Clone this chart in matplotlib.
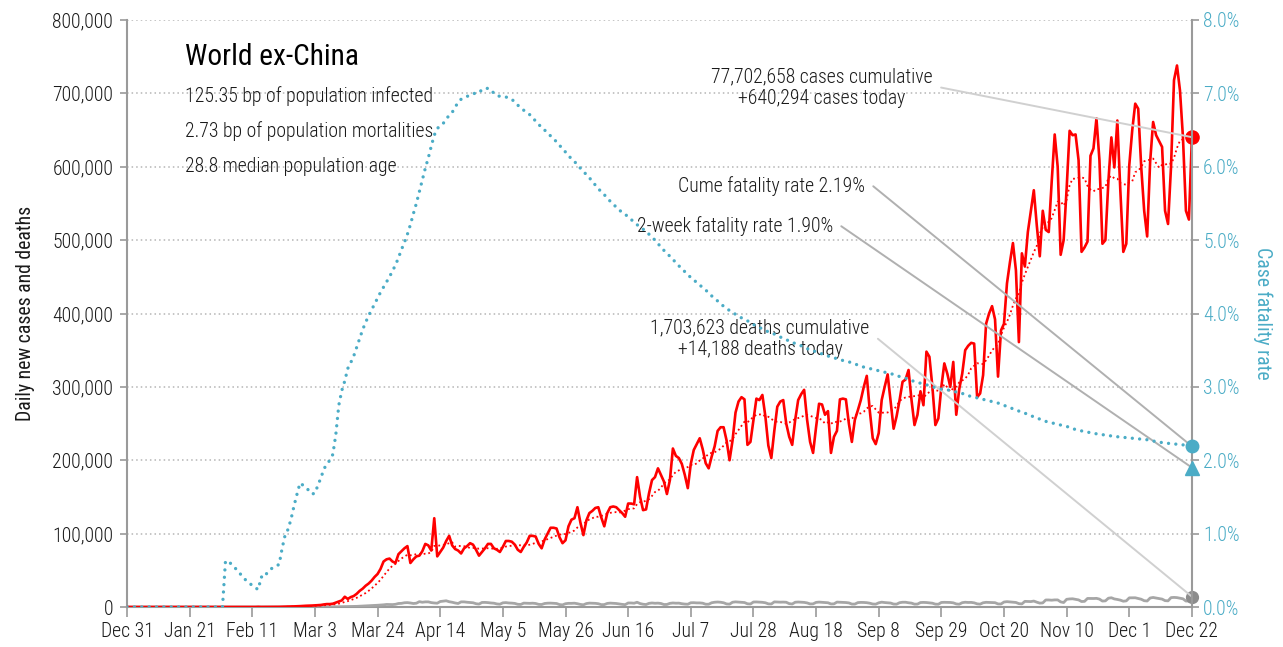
import numpy as np
import pandas as pd
import matplotlib
matplotlib.use("Agg")
import matplotlib.pyplot as plt
from matplotlib import font_manager as fm
from matplotlib.ticker import FuncFormatter, FixedLocator

# ---------------- data (day 0 = Dec 31, 2019; day 357 = Dec 22, 2020) ----------------
tick_labels = ["Dec 31", "Jan 21", "Feb 11", "Mar 3", "Mar 24", "Apr 14", "May 5", "May 26",
               "Jun 16", "Jul 7", "Jul 28", "Aug 18", "Sep 8", "Sep 29", "Oct 20", "Nov 10",
               "Dec 1", "Dec 22"]

daily_cases = [
    0, 0, 0, 0, 0, 0, 0,
    0, 0, 0, 0, 0, 0, 1,
    0, 1, 0, 0, 0, 1, 2,
    4, 5, 6, 10, 12, 16, 14,
    22, 26, 30, 32, 28, 22, 30,
    40, 36, 50, 62, 30, 20, 26,
    30, 22, 200, 40, 50, 100, 80,
    100, 150, 200, 300, 450, 550, 650,
    850, 1000, 1200, 1500, 1700, 1800, 2000,
    2200, 2500, 2800, 3500, 4000, 4000, 4500,
    6000, 7500, 9000, 14000, 11000, 13500, 15000,
    18000, 22000, 25000, 29000, 32000, 36000, 41000,
    45000, 52000, 62000, 65000, 66000, 62000, 60000,
    72000, 76000, 80000, 83000, 60000, 65000, 69000,
    70000, 76000, 86000, 84000, 77000, 121000, 69000,
    75000, 81000, 90000, 97000, 84000, 79000, 77000,
    73000, 80000, 83000, 87000, 85000, 78000, 70000,
    75000, 80000, 86000, 86000, 80000, 78000, 75000,
    82000, 90000, 90000, 89000, 85000, 78000, 75000,
    82000, 88000, 97000, 97000, 96000, 86000, 80000,
    92000, 100000, 108000, 108000, 107000, 95000, 87000,
    91000, 110000, 119000, 121000, 136000, 115000, 98000,
    118000, 128000, 131000, 135000, 136000, 122000, 110000,
    128000, 136000, 137000, 136000, 132000, 128000, 123000,
    141000, 141000, 140000, 177000, 150000, 132000, 133000,
    155000, 173000, 177000, 189000, 180000, 171000, 154000,
    173000, 216000, 206000, 203000, 195000, 180000, 162000,
    195000, 214000, 222000, 230000, 215000, 196000, 189000,
    205000, 219000, 240000, 245000, 245000, 227000, 200000,
    227000, 265000, 280000, 286000, 283000, 221000, 225000,
    255000, 284000, 282000, 289000, 260000, 220000, 203000,
    240000, 273000, 280000, 282000, 250000, 232000, 221000,
    255000, 282000, 290000, 296000, 255000, 225000, 210000,
    245000, 277000, 276000, 262000, 267000, 210000, 232000,
    240000, 283000, 284000, 283000, 250000, 225000, 255000,
    268000, 282000, 300000, 315000, 268000, 230000, 222000,
    237000, 282000, 300000, 317000, 280000, 243000, 260000,
    282000, 307000, 310000, 323000, 282000, 248000, 262000,
    294000, 275000, 348000, 341000, 300000, 248000, 257000,
    300000, 332000, 318000, 300000, 334000, 262000, 297000,
    318000, 350000, 356000, 360000, 359000, 286000, 291000,
    316000, 386000, 400000, 410000, 392000, 314000, 377000,
    386000, 441000, 470000, 496000, 459000, 361000, 482000,
    464000, 511000, 540000, 568000, 520000, 478000, 540000,
    514000, 511000, 580000, 644000, 600000, 480000, 500000,
    570000, 649000, 643000, 644000, 609000, 484000, 490000,
    498000, 615000, 625000, 666000, 609000, 495000, 500000,
    580000, 640000, 599000, 663000, 568000, 484000, 495000,
    602000, 650000, 686000, 679000, 600000, 540000, 505000,
    607000, 661000, 643000, 635000, 627000, 540000, 522000,
    600000, 718000, 738000, 704000, 640000, 540000, 528000,
    640294,
]

daily_deaths = [0] * 33 + [1] + [0] * 11 + [1, 0, 1, 0] + [
    0, 1, 2, 3, 4, 6, 8,
    10, 15, 15, 20, 25, 30, 40,
    50, 60, 70, 90, 100, 130, 200,
    250, 300, 400, 450, 500, 650, 800,
    900, 1100, 1300, 1500, 1700, 1900, 2000,
    2400, 2700, 3000, 3500, 3400, 3300, 3700,
    4800, 5000, 5800, 6000, 5500, 4800, 5200,
    7300, 6500, 7000, 7000, 6000, 5500, 5200,
    7500, 8000, 8500, 7200, 6500, 5500, 4800,
    7000, 7000, 6500, 6200, 5800, 4500, 4000,
    6200, 6300, 6000, 5500, 5200, 4200, 3800,
    5700, 6000, 5500, 5300, 4900, 3700, 3500,
    5300, 5200, 5000, 5200, 4800, 3600, 3400,
    4800, 5200, 5300, 5000, 4800, 3300, 2900,
    4500, 5000, 5000, 5200, 4500, 3500, 3000,
    4700, 5300, 5100, 5000, 4500, 3200, 3300,
    4900, 5300, 5000, 4800, 4200, 3600, 3200,
    5500, 5500, 5200, 6500, 4700, 3800, 3400,
    5000, 5500, 5100, 5300, 4800, 3400, 3500,
    5000, 5500, 5200, 5300, 4500, 4000, 3800,
    5800, 5900, 5600, 5600, 5200, 3800, 3800,
    5800, 6500, 6800, 6500, 5800, 4200, 3900,
    6500, 7000, 6700, 6300, 6100, 4400, 4100,
    6800, 6900, 6600, 6400, 5800, 4300, 4100,
    7000, 6800, 6600, 6700, 6500, 4600, 4100,
    6500, 6800, 6600, 6300, 5600, 4200, 4300,
    6300, 6700, 6400, 6200, 5800, 4200, 4300,
    6700, 6500, 6300, 6100, 5600, 4000, 4000,
    6000, 6300, 6200, 5900, 5200, 4100, 3900,
    5700, 6600, 6100, 5800, 5400, 4000, 3900,
    5900, 6500, 6500, 5800, 5300, 3900, 4000,
    6100, 6300, 6100, 5600, 5200, 3900, 3800,
    6200, 6400, 6300, 6200, 5700, 4200, 3800,
    5900, 6500, 6200, 6300, 5700, 4300, 3900,
    5800, 6400, 6200, 6100, 5900, 4200, 4100,
    6800, 7300, 6900, 6400, 6200, 4600, 4200,
    7700, 7600, 7400, 8100, 6600, 5300, 5600,
    9600, 9600, 9300, 9700, 9700, 7000, 6100,
    10500, 11000, 11200, 10500, 9700, 7500, 7700,
    11700, 11600, 11600, 11800, 10800, 8100, 8400,
    12000, 12600, 11000, 10300, 9400, 7900, 8400,
    12500, 12600, 12600, 11600, 10600, 8600, 8200,
    12300, 13000, 12200, 11500, 10800, 8700, 8400,
    12800, 13100, 12800, 12000, 11200, 8100, 8200,
    14188,
]

# cumulative case fatality rate, percent
cfr_pct = [0.0] * 33 + [
    0.62, 0.63, 0.58, 0.54, 0.50, 0.45, 0.40, 0.36, 0.33, 0.29, 0.26, 0.24,
    0.41, 0.40, 0.47, 0.51, 0.54, 0.56, 0.58, 0.80, 0.98, 1.06, 1.20, 1.38, 1.54, 1.69, 1.66, 1.62, 1.59, 1.54,
    1.55, 1.66, 1.76, 1.88, 1.95, 2.00, 2.08, 2.35, 2.75, 2.95, 3.08, 3.25, 3.33, 3.42, 3.54, 3.66, 3.78, 3.88,
    3.97, 4.05, 4.13, 4.21, 4.29, 4.36, 4.43, 4.50, 4.58, 4.66, 4.76, 4.87, 4.97, 5.08, 5.21, 5.36, 5.50, 5.66,
    5.82, 5.98,
    6.12, 6.28, 6.43, 6.52, 6.56, 6.59, 6.65, 6.70, 6.74, 6.81, 6.88, 6.92, 6.94, 6.96, 6.97, 6.99, 7.01, 7.04,
    7.03, 7.06, 7.07, 7.05, 7.00, 6.97, 6.96, 6.95, 6.95, 6.94, 6.92, 6.88, 6.84, 6.80, 6.77, 6.74, 6.71,
    6.67, 6.62, 6.58, 6.53, 6.50, 6.46, 6.42, 6.38, 6.34, 6.29,
    6.25, 6.20, 6.15, 6.11, 6.07, 6.03, 5.98, 5.94, 5.89, 5.85,
    5.80, 5.75, 5.70, 5.66, 5.62, 5.57, 5.53, 5.49, 5.45, 5.41,
    5.38, 5.35, 5.32, 5.28, 5.25, 5.21, 5.18, 5.15, 5.12, 5.08,
    5.04, 5.00, 4.95, 4.91, 4.86, 4.82, 4.78, 4.74, 4.69, 4.65,
    4.61, 4.57, 4.53, 4.49, 4.46, 4.42, 4.39, 4.35, 4.32, 4.28,
    4.24, 4.21, 4.17, 4.13, 4.10, 4.07, 4.04, 4.01, 3.99, 3.97,
    3.94, 3.92, 3.90, 3.88, 3.85, 3.83, 3.81, 3.79, 3.77, 3.75,
    3.73, 3.72, 3.70, 3.68, 3.66, 3.64, 3.63, 3.61, 3.59, 3.57,
    3.56, 3.54, 3.52, 3.51, 3.49, 3.48, 3.46, 3.45, 3.44, 3.42,
    3.41, 3.40, 3.38, 3.37, 3.36, 3.35, 3.34, 3.33, 3.31, 3.30,
    3.28, 3.27, 3.26, 3.25, 3.24, 3.23, 3.22, 3.21, 3.20, 3.19,
    3.18, 3.17, 3.16, 3.14, 3.13, 3.12, 3.10, 3.09, 3.07, 3.06,
    3.05, 3.04, 3.03, 3.01, 3.00, 2.99, 2.98, 2.97, 2.96, 2.96,
    2.95, 2.94, 2.93, 2.92, 2.91, 2.90, 2.88, 2.87, 2.86, 2.85,
    2.84, 2.83, 2.82, 2.81, 2.80, 2.79, 2.78, 2.76, 2.75, 2.73,
    2.72, 2.70, 2.69, 2.67, 2.66, 2.64, 2.63, 2.61, 2.59, 2.58,
    2.56, 2.55, 2.53, 2.52, 2.51, 2.50, 2.49, 2.48, 2.47, 2.46,
    2.45, 2.43, 2.42, 2.41, 2.40, 2.39, 2.38, 2.38, 2.37, 2.36,
    2.36, 2.35, 2.34, 2.34, 2.33, 2.33, 2.32, 2.32, 2.31, 2.31,
    2.30, 2.30, 2.30, 2.29, 2.29, 2.28, 2.28, 2.27, 2.26, 2.26,
    2.25, 2.24, 2.24, 2.23, 2.23, 2.22, 2.22, 2.21, 2.21, 2.20,
    2.20, 2.19,
]

two_week_cfr_pct = 1.90

title = "World ex-China"
subtitle_lines = ["125.35 bp of population infected",
                  "2.73 bp of population mortalities",
                  "28.8 median population age"]
cases_note = "77,702,658 cases cumulative\n+640,294 cases today"
deaths_note = "1,703,623 deaths cumulative\n+14,188 deaths today"
cume_note = "Cume fatality rate 2.19%"
twoweek_note = "2-week fatality rate 1.90%"

# ---------------- font choice ----------------
entries = fm.fontManager.ttflist
available = {f.name for f in entries}
prefs = ["Roboto Condensed", "Archivo Narrow", "PT Sans Narrow", "Barlow Condensed",
         "Fira Sans Condensed", "IBM Plex Sans Condensed", "Encode Sans Condensed",
         "Liberation Sans Narrow", "DejaVu Sans"]
FONT = next(p for p in prefs if p in available or p == "DejaVu Sans")
weights = {f.weight for f in entries if f.name == FONT}
WEIGHT = 300 if 300 in weights else "normal"
plt.rcParams["font.family"] = [FONT, "DejaVu Sans"]
plt.rcParams["font.weight"] = WEIGHT

RED = "#ff0000"
BLUE = "#4bacc6"
GREY = "#a6a6a6"
AXC = "#9a9a9a"
TXT = "#1a1a1a"

fig = plt.figure(figsize=(12.83, 6.47), dpi=100)
renderer = fig.canvas.get_renderer()


def fit_size(s, target_px, base=10.0):
    t = fig.text(0, 0, s, fontsize=base)
    w = t.get_window_extent(renderer).width
    t.remove()
    return base * target_px / w


FS = fit_size(subtitle_lines[0], 248)
FS_T = fit_size(title, 172)

n = len(daily_cases)
days = np.arange(n)
s_cases = pd.Series(daily_cases, index=days, dtype=float)
avg_cases = s_cases.rolling(7, min_periods=1).mean()

ax = fig.add_axes([0.0990, 0.0618, 0.8300, 0.9073])
ax2 = ax.twinx()

ax.set_xlim(0, n - 1)
ax.set_ylim(0, 800000)
ax2.set_ylim(0, 8)

ax.yaxis.set_major_locator(FixedLocator(np.arange(0, 800001, 100000)))
ax.yaxis.set_major_formatter(FuncFormatter(lambda v, p: f"{int(v):,}"))
ax2.yaxis.set_major_locator(FixedLocator(np.arange(0, 8.01, 1)))
ax2.yaxis.set_major_formatter(FuncFormatter(lambda v, p: f"{v:.1f}%"))
ax.xaxis.set_major_locator(FixedLocator(np.arange(0, n, 21)))
ax.set_xticklabels(tick_labels)

ax.yaxis.grid(True, linestyle=(0, (1, 2)), color="#b5b5b5", lw=1.1)
ax.set_axisbelow(True)

for a in (ax, ax2):
    a.spines["top"].set_visible(False)
    for sp in ("left", "right", "bottom"):
        a.spines[sp].set_color(AXC)
        a.spines[sp].set_linewidth(1.5)
ax.spines["right"].set_visible(False)
ax2.spines["left"].set_visible(False)
ax2.spines["bottom"].set_visible(False)

ax.tick_params(axis="y", length=5, width=1.2, color=AXC, labelsize=FS, labelcolor=TXT, pad=5)
ax.tick_params(axis="x", length=7, width=1.2, color=AXC, labelsize=FS, labelcolor=TXT, pad=4)
ax2.tick_params(axis="y", length=5, width=1.2, color=AXC, labelsize=FS, labelcolor=BLUE, pad=3)

ax.set_ylabel("Daily new cases and deaths", fontsize=FS, color=TXT, labelpad=12)
ax2.set_ylabel("Case fatality rate", fontsize=FS, color=BLUE, rotation=270, labelpad=24)

# series
ax.plot(days, daily_deaths, color=GREY, lw=2.0, zorder=3)
ax.plot(days, avg_cases.values, color=RED, lw=1.3, linestyle=(0, (1, 1.6)), zorder=4)
ax.plot(days, daily_cases, color=RED, lw=1.9, zorder=5, solid_joinstyle="round")
ax2.plot(days, cfr_pct, color=BLUE, lw=2.4, linestyle=(0, (0.01, 2.2)),
         dash_capstyle="round", zorder=4)

# end markers
last = n - 1
ax.plot([last], [daily_cases[-1]], "o", color=RED, ms=9.5, clip_on=False, zorder=7)
ax.plot([last], [daily_deaths[-1]], "o", color="#8c8c8c", ms=8.5, clip_on=False, zorder=7)
ax2.plot([last], [cfr_pct[-1]], "o", color=BLUE, ms=9, clip_on=False, zorder=7)
ax2.plot([last], [two_week_cfr_pct], "^", color=BLUE, ms=9.5, clip_on=False, zorder=7)

# title block
ax.text(0.0545, 0.9233, title, transform=ax.transAxes, fontsize=FS_T, color="black",
        va="baseline", ha="left", fontweight="normal")
for i, line in enumerate(subtitle_lines):
    ax.text(0.0545, 0.8603 - i * 0.0596, line, transform=ax.transAxes, fontsize=FS,
            color=TXT, va="baseline", ha="left")


# annotations with connectors
def note(text, xy_axes, target, tax, ha, color):
    tx, ty = xy_axes
    ax.annotate(text, xy=target, xycoords=tax.transData, xytext=(tx, ty),
                textcoords=ax.transAxes, fontsize=FS, color=TXT, ha=ha, va="center",
                multialignment="center", linespacing=1.15,
                arrowprops=dict(arrowstyle="-", color=color, lw=1.4, shrinkA=4, shrinkB=0,
                                relpos=(1.0, 0.5),
                                connectionstyle="arc,angleA=0,armA=8,angleB=0,armB=0,rad=0"),
                zorder=8)


note(cases_note, ((822 - 127) / 1065, (607 - 87.5) / 587), (last, daily_cases[-1]), ax, "center", "#d0d0d0")
note(cume_note, ((865 - 127) / 1065, (607 - 186) / 587), (last, cfr_pct[-1]), ax2, "right", "#b0b0b0")
note(twoweek_note, ((833 - 127) / 1065, (607 - 226) / 587), (last, two_week_cfr_pct), ax2, "right", "#b0b0b0")
note(deaths_note, ((760 - 127) / 1065, (607 - 338.5) / 587), (last, daily_deaths[-1]), ax, "center", "#d0d0d0")

fig.savefig("out.png", dpi=100)
